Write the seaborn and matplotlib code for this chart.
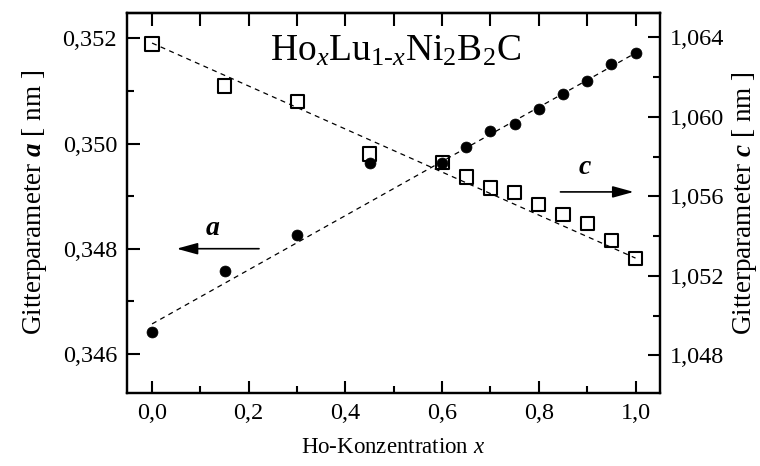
import matplotlib
matplotlib.use("Agg")
import matplotlib.pyplot as plt
from matplotlib.ticker import MultipleLocator, FuncFormatter
import seaborn as sns

# Ho-Konzentration x
conc = [0.0, 0.15, 0.3, 0.45, 0.6, 0.65, 0.7, 0.75, 0.8, 0.85, 0.9, 0.95, 1.0]
# Gitterparameter a [nm] (gefuellte Kreise, linke Achse)
a_nm = [0.34642, 0.34758, 0.34827, 0.34962, 0.34962, 0.34994, 0.35023,
        0.35038, 0.35066, 0.35095, 0.35118, 0.35152, 0.35172]
# Gitterparameter c [nm] (offene Quadrate, rechte Achse)
c_nm = [1.06367, 1.06156, 1.06080, 1.05814, 1.05769, 1.05698, 1.05643,
        1.05618, 1.05558, 1.05508, 1.05462, 1.05377, 1.05286]
# lineare Anpassung (Vegard)
fit_x = [0.0, 1.0]
fit_a = [0.34657, 0.35172]
fit_c = [1.06372, 1.05290]

sns.set_style("ticks")
plt.rcParams['font.family'] = ['Liberation Serif', 'DejaVu Serif']
plt.rcParams['mathtext.fontset'] = 'custom'
plt.rcParams['mathtext.rm'] = 'Liberation Serif'
plt.rcParams['mathtext.it'] = 'Liberation Serif:italic'
plt.rcParams['mathtext.bf'] = 'Liberation Serif:bold'
plt.rcParams['mathtext.bfit'] = 'Liberation Serif:italic:bold'
for key in ['text.color', 'axes.labelcolor', 'xtick.color', 'ytick.color', 'axes.edgecolor']:
    plt.rcParams[key] = 'black'

fig = plt.figure(figsize=(7.6, 4.66), dpi=100)
ax = fig.add_axes([0.167, 0.157, 0.701, 0.815])
ax2 = ax.twinx()

dash = (0, (4, 3.5))
sns.lineplot(x=fit_x, y=fit_a, ax=ax, color='black', linewidth=0.9, linestyle=dash)
sns.scatterplot(x=conc, y=a_nm, ax=ax, marker='o', s=62, color='black',
                edgecolor='black', linewidth=0.5, zorder=3)
sns.lineplot(x=fit_x, y=fit_c, ax=ax2, color='black', linewidth=0.9, linestyle=dash)
sns.scatterplot(x=conc, y=c_nm, ax=ax2, marker='s', s=90, facecolor='none',
                edgecolor='black', linewidth=1.5, zorder=3)

comma = FuncFormatter(lambda v, p: f"{v:.1f}".replace('.', ','))
comma3 = FuncFormatter(lambda v, p: f"{v:.3f}".replace('.', ','))

ax.set_xlim(-0.052, 1.05)
ax.set_ylim(0.34526, 0.35248)
ax2.set_ylim(1.04612, 1.06523)

ax.xaxis.set_major_locator(MultipleLocator(0.2))
ax.xaxis.set_minor_locator(MultipleLocator(0.1))
ax.xaxis.set_major_formatter(comma)
ax.yaxis.set_major_locator(MultipleLocator(0.002))
ax.yaxis.set_minor_locator(MultipleLocator(0.001))
ax.yaxis.set_major_formatter(comma3)
ax2.yaxis.set_major_locator(MultipleLocator(0.004))
ax2.yaxis.set_minor_locator(MultipleLocator(0.002))
ax2.yaxis.set_major_formatter(comma3)

ax.tick_params(which='major', direction='in', length=9, width=1.5,
               labelsize=17.5, pad=7, top=False, right=False)
ax.tick_params(which='minor', direction='in', length=5, width=1.5,
               top=False, right=False)
ax2.tick_params(which='major', direction='in', length=9, width=1.5,
                labelsize=17.5, pad=7, left=False)
ax2.tick_params(which='minor', direction='in', length=5, width=1.5, left=False)

top = ax.secondary_xaxis('top')
top.xaxis.set_major_locator(MultipleLocator(0.1))
top.tick_params(direction='in', length=9, width=1.5, labeltop=False)

for a in (ax, ax2):
    for s in a.spines.values():
        s.set_visible(True)
        s.set_linewidth(1.6)
top.spines['top'].set_linewidth(1.6)

ax.set_xlabel(r"Ho-Konzentration $x$", fontsize=16.5, labelpad=10)
ax.set_ylabel(r"Gitterparameter $\mathbfit{a}$ [ nm ]", fontsize=19.5, labelpad=10)
ax2.set_ylabel(r"Gitterparameter $\mathbfit{c}$ [ nm ]", fontsize=19.5, labelpad=4)

ax.text(0.268, 0.876, r"Ho$_x$Lu$_{1\text{-}x}$Ni$_2$B$_2$C", transform=ax.transAxes,
        fontsize=27, ha='left', va='baseline')

# Pfeile zu den Achsen
arrow = dict(arrowstyle='-|>,head_length=0.8,head_width=0.22', color='black',
             lw=1.2, mutation_scale=16)
ax.annotate('', xy=(0.045, 0.348), xytext=(0.227, 0.348), arrowprops=arrow)
ax.text(0.126, 0.34838, 'a', fontsize=20, fontstyle='italic', fontweight='bold',
        ha='center', va='center')
ax2.annotate('', xy=(1.002, 1.05623), xytext=(0.839, 1.05623), arrowprops=arrow)
ax2.text(0.895, 1.05744, 'c', fontsize=20, fontstyle='italic', fontweight='bold',
         ha='center', va='center')

fig.savefig("out.png", dpi=100)
